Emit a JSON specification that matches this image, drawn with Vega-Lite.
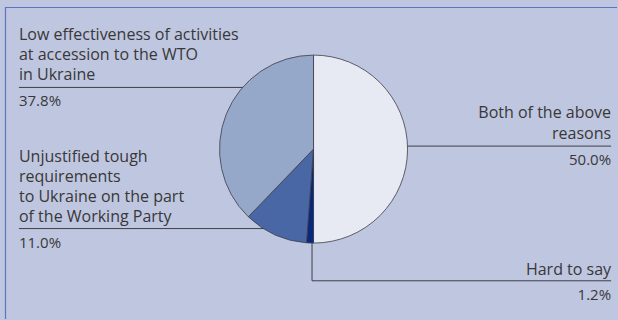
{
  "$schema": "https://vega.github.io/schema/vega-lite/v6.json",
  "autosize": {"type": "fit", "contains": "padding"},
  "width": 618,
  "height": 320,
  "padding": {"left": 4, "top": 6, "right": 0, "bottom": 0},
  "background": "#BFC6E0",
  "config": {
    "view": {"stroke": "transparent", "strokeWidth": 0},
    "text": {"font": "Open Sans", "color": "#383838"}
  },
  "datasets": {
    "answers": [
      {"category": "Both of the above reasons", "label": "Both of the above\nreasons", "share": 0.5, "rank": 1, "side": "right", "textX": 3.176, "lineY": 0.032},
      {"category": "Hard to say", "label": "Hard to say", "share": 0.012, "rank": 2, "side": "right", "textX": 3.176, "lineY": -1.41},
      {"category": "Unjustified tough requirements", "label": "Unjustified tough\nrequirements\nto Ukraine on the part\nof the Working Party", "share": 0.11, "rank": 3, "side": "left", "textX": -3.144, "lineY": -0.851},
      {"category": "Low effectiveness of activities", "label": "Low effectiveness of activities\nat accession to the WTO\nin Ukraine", "share": 0.378, "rank": 4, "side": "left", "textX": -3.144, "lineY": 0.66}
    ],
    "leaders": [
      {"category": "Both of the above reasons", "x": 1.0, "x2": 3.176, "y": 0.032, "y2": 0.032},
      {"category": "Hard to say", "x": -0.016, "x2": -0.016, "y": -1.0, "y2": -1.41},
      {"category": "Hard to say", "x": -0.016, "x2": 3.176, "y": -1.41, "y2": -1.41},
      {"category": "Unjustified tough requirements", "x": -3.144, "x2": -0.525, "y": -0.851, "y2": -0.851},
      {"category": "Low effectiveness of activities", "x": -3.144, "x2": -0.751, "y": 0.66, "y2": 0.66}
    ]
  },
  "encoding": {
    "x": {"type": "quantitative", "scale": {"domain": [-3.293, 3.239], "nice": false, "zero": false}, "axis": null},
    "y": {"type": "quantitative", "scale": {"domain": [-1.819, 1.521], "nice": false, "zero": false}, "axis": null}
  },
  "layer": [
    {
      "description": "frame: top edge",
      "data": {"values": [{}]},
      "mark": {"type": "rule", "stroke": "#5C74C4", "strokeWidth": 1.2},
      "encoding": {"y": {"datum": 1.5157, "type": "quantitative"}}
    },
    {
      "description": "frame: left edge",
      "data": {"values": [{}]},
      "mark": {"type": "rule", "stroke": "#5C74C4", "strokeWidth": 1.2},
      "encoding": {"x": {"datum": -3.2877, "type": "quantitative"}}
    },
    {
      "data": {"name": "leaders"},
      "mark": {"type": "rule", "stroke": "#3E3E46", "strokeWidth": 1},
      "encoding": {
        "x": {"field": "x", "type": "quantitative"},
        "x2": {"field": "x2"},
        "y": {"field": "y", "type": "quantitative"},
        "y2": {"field": "y2"}
      }
    },
    {
      "data": {"name": "answers"},
      "transform": [
        {"stack": "share", "groupby": [], "sort": [{"field": "rank", "order": "ascending"}], "as": ["s0", "s1"]}
      ],
      "mark": {"type": "arc", "outerRadius": 94, "stroke": "#3E3E46", "strokeWidth": 0.8},
      "encoding": {
        "x": {"datum": 0, "type": "quantitative"},
        "y": {"datum": 0, "type": "quantitative"},
        "theta": {"field": "s0", "type": "quantitative", "scale": {"domain": [0, 1]}},
        "theta2": {"field": "s1"},
        "color": {
          "field": "category",
          "type": "nominal",
          "scale": {
            "domain": ["Both of the above reasons", "Hard to say", "Unjustified tough requirements", "Low effectiveness of activities"],
            "range": ["#E7EAF2", "#06287F", "#4966A5", "#95A8CA"]
          },
          "legend": null
        }
      }
    },
    {
      "data": {"name": "answers"},
      "transform": [{"filter": "datum.category === 'Low effectiveness of activities'"}],
      "mark": {"type": "text", "align": "left", "baseline": "alphabetic", "dy": -47, "fontSize": 16, "lineHeight": 20, "lineBreak": "\n"},
      "encoding": {
        "x": {"field": "textX", "type": "quantitative"},
        "y": {"field": "lineY", "type": "quantitative"},
        "text": {"field": "label"}
      }
    },
    {
      "data": {"name": "answers"},
      "transform": [{"filter": "datum.category === 'Unjustified tough requirements'"}],
      "mark": {"type": "text", "align": "left", "baseline": "alphabetic", "dy": -67, "fontSize": 16, "lineHeight": 20, "lineBreak": "\n"},
      "encoding": {
        "x": {"field": "textX", "type": "quantitative"},
        "y": {"field": "lineY", "type": "quantitative"},
        "text": {"field": "label"}
      }
    },
    {
      "data": {"name": "answers"},
      "transform": [{"filter": "datum.category === 'Both of the above reasons'"}],
      "mark": {"type": "text", "align": "right", "baseline": "alphabetic", "dy": -28, "fontSize": 16, "lineHeight": 21, "lineBreak": "\n"},
      "encoding": {
        "x": {"field": "textX", "type": "quantitative"},
        "y": {"field": "lineY", "type": "quantitative"},
        "text": {"field": "label"}
      }
    },
    {
      "data": {"name": "answers"},
      "transform": [{"filter": "datum.category === 'Hard to say'"}],
      "mark": {"type": "text", "align": "right", "baseline": "alphabetic", "dy": -6, "fontSize": 16},
      "encoding": {
        "x": {"field": "textX", "type": "quantitative"},
        "y": {"field": "lineY", "type": "quantitative"},
        "text": {"field": "label"}
      }
    },
    {
      "data": {"name": "answers"},
      "transform": [{"filter": "datum.side === 'left'"}],
      "mark": {"type": "text", "align": "left", "baseline": "alphabetic", "dy": 19, "fontSize": 15},
      "encoding": {
        "x": {"field": "textX", "type": "quantitative"},
        "y": {"field": "lineY", "type": "quantitative"},
        "text": {"field": "share", "type": "quantitative", "format": ".1%"}
      }
    },
    {
      "data": {"name": "answers"},
      "transform": [{"filter": "datum.side === 'right'"}],
      "mark": {"type": "text", "align": "right", "baseline": "alphabetic", "dy": 19, "fontSize": 15},
      "encoding": {
        "x": {"field": "textX", "type": "quantitative"},
        "y": {"field": "lineY", "type": "quantitative"},
        "text": {"field": "share", "type": "quantitative", "format": ".1%"}
      }
    }
  ]
}
